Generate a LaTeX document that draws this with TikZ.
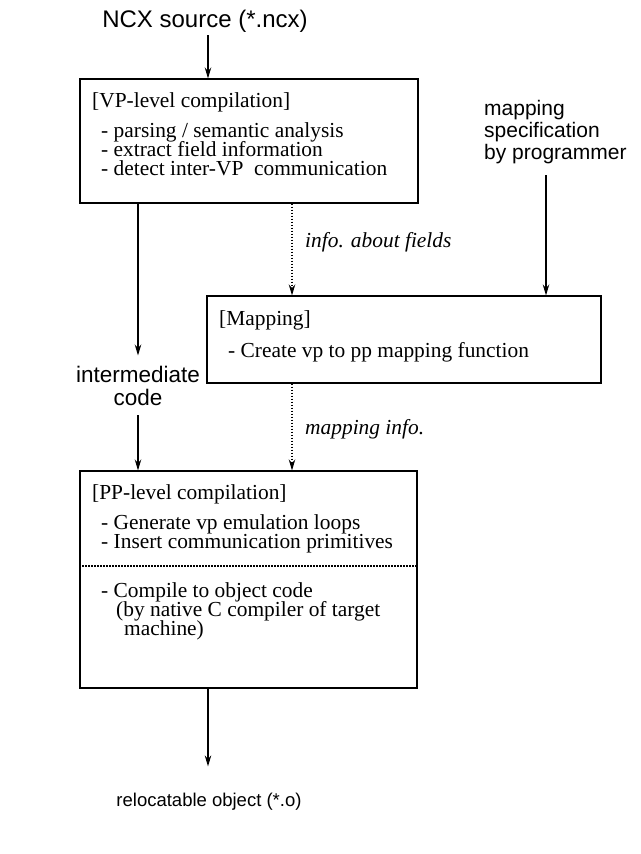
\documentclass[tikz,border=0pt]{standalone}
\usepackage{fontspec}
\setmainfont{Liberation Serif}
\setsansfont{Liberation Sans}
\usetikzlibrary{arrows.meta,calc}
\begin{document}
\begin{tikzpicture}[x=1pt,y=-1pt,
  box/.style={draw, line width=1.1pt, inner sep=0pt},
  serif/.style={font=\fontsize{21.4}{20}\selectfont, anchor=base west, inner sep=0pt},
  ital/.style={font=\itshape\fontsize{21.4}{20}\selectfont, anchor=base west, inner sep=0pt},
  sans/.style={font=\sffamily\fontsize{22.5}{22}\selectfont, anchor=base, inner sep=0pt},
  arr/.style={-{Stealth[length=11pt,width=6.5pt]}, line width=1.1pt},
  darr/.style={arr, dash pattern=on 1.5pt off 1.5pt},
  sepline/.style={line width=1.1pt, dash pattern=on 1.5pt off 1.5pt}]
\useasboundingbox (0,0) rectangle (640,854);

% top input
\node[sans, font=\sffamily\fontsize{24}{24}\selectfont] (ncx) at (205,27) {NCX source (*.ncx)};

% VP-level box
\node[box, minimum width=338pt, minimum height=124pt] (vp) at (249,141) {};
\node[serif] (vpt) at (92,107) {[VP-level compilation]};
\node[serif] (vp1) at (101,137) {- parsing / semantic analysis};
\node[serif] (vp2) at (101,156) {- extract field information};
\node[serif] (vp3) at (101,175) {- detect inter-VP\ \ communication};

% mapping specification
\node[sans, anchor=base west, font=\sffamily\fontsize{21}{22}\selectfont] (ms1) at (484,115) {mapping};
\node[sans, anchor=base west, font=\sffamily\fontsize{21}{22}\selectfont] (ms2) at (484,137) {specification};
\node[sans, anchor=base west, font=\sffamily\fontsize{21}{22}\selectfont] (ms3) at (484,159) {by programmer};

% Mapping box
\node[box, minimum width=394pt, minimum height=87pt] (map) at (404,339.5) {};
\node[serif] (mapt) at (219,325) {[Mapping]};
\node[serif] (map1) at (228,357) {- Create vp to pp mapping function};

% labels
\node[ital] (inf) at (305,247) {info. about fields};
\node[ital] (minf) at (305,434) {mapping info.};
\node[sans] (ic1) at (138,382) {intermediate};
\node[sans] (ic2) at (138,405) {code};

% PP-level box
\node[box, minimum width=337pt, minimum height=217pt] (pp) at (248.5,579.5) {};
\node[serif] (ppt) at (92,499) {[PP-level compilation]};
\node[serif] (pp1) at (101,529) {- Generate vp emulation loops};
\node[serif] (pp2) at (101,548) {- Insert communication primitives};
\node[serif] (pp3) at (101,597) {- Compile to object code};
\node[serif] (pp4) at (116,616) {(by native C compiler of target};
\node[serif] (pp5) at (124,635) {machine)};

% output
\node[sans, font=\sffamily\fontsize{18.5}{19}\selectfont] (rel) at (209,806) {relocatable object (*.o)};

% helper coordinates
\coordinate (tx) at (208,35);
\coordinate (dx) at (292,0);
\coordinate (lx) at (138,0);
\coordinate (px) at (546,175);
\coordinate (ox) at (208,0);
\coordinate (sep) at (0,566);

% connectors
\draw[arr] (tx) -- (tx |- vp.north);
\draw[darr] (vp.south -| dx) -- (dx |- map.north);
\draw[arr] (px) -- (px |- map.north);
\draw[arr, shorten >=10pt] (vp.south -| lx) -- (ic1.north);
\draw[arr, shorten <=10pt] (ic2.south) -- (ic2 |- pp.north);
\draw[darr] (map.south -| dx) -- (dx |- pp.north);
\draw[arr, shorten >=26pt] (pp.south -| ox) -- (rel.north -| ox);
\draw[sepline] (sep -| pp.west) -- (sep -| pp.east);
\end{tikzpicture}
\end{document}
